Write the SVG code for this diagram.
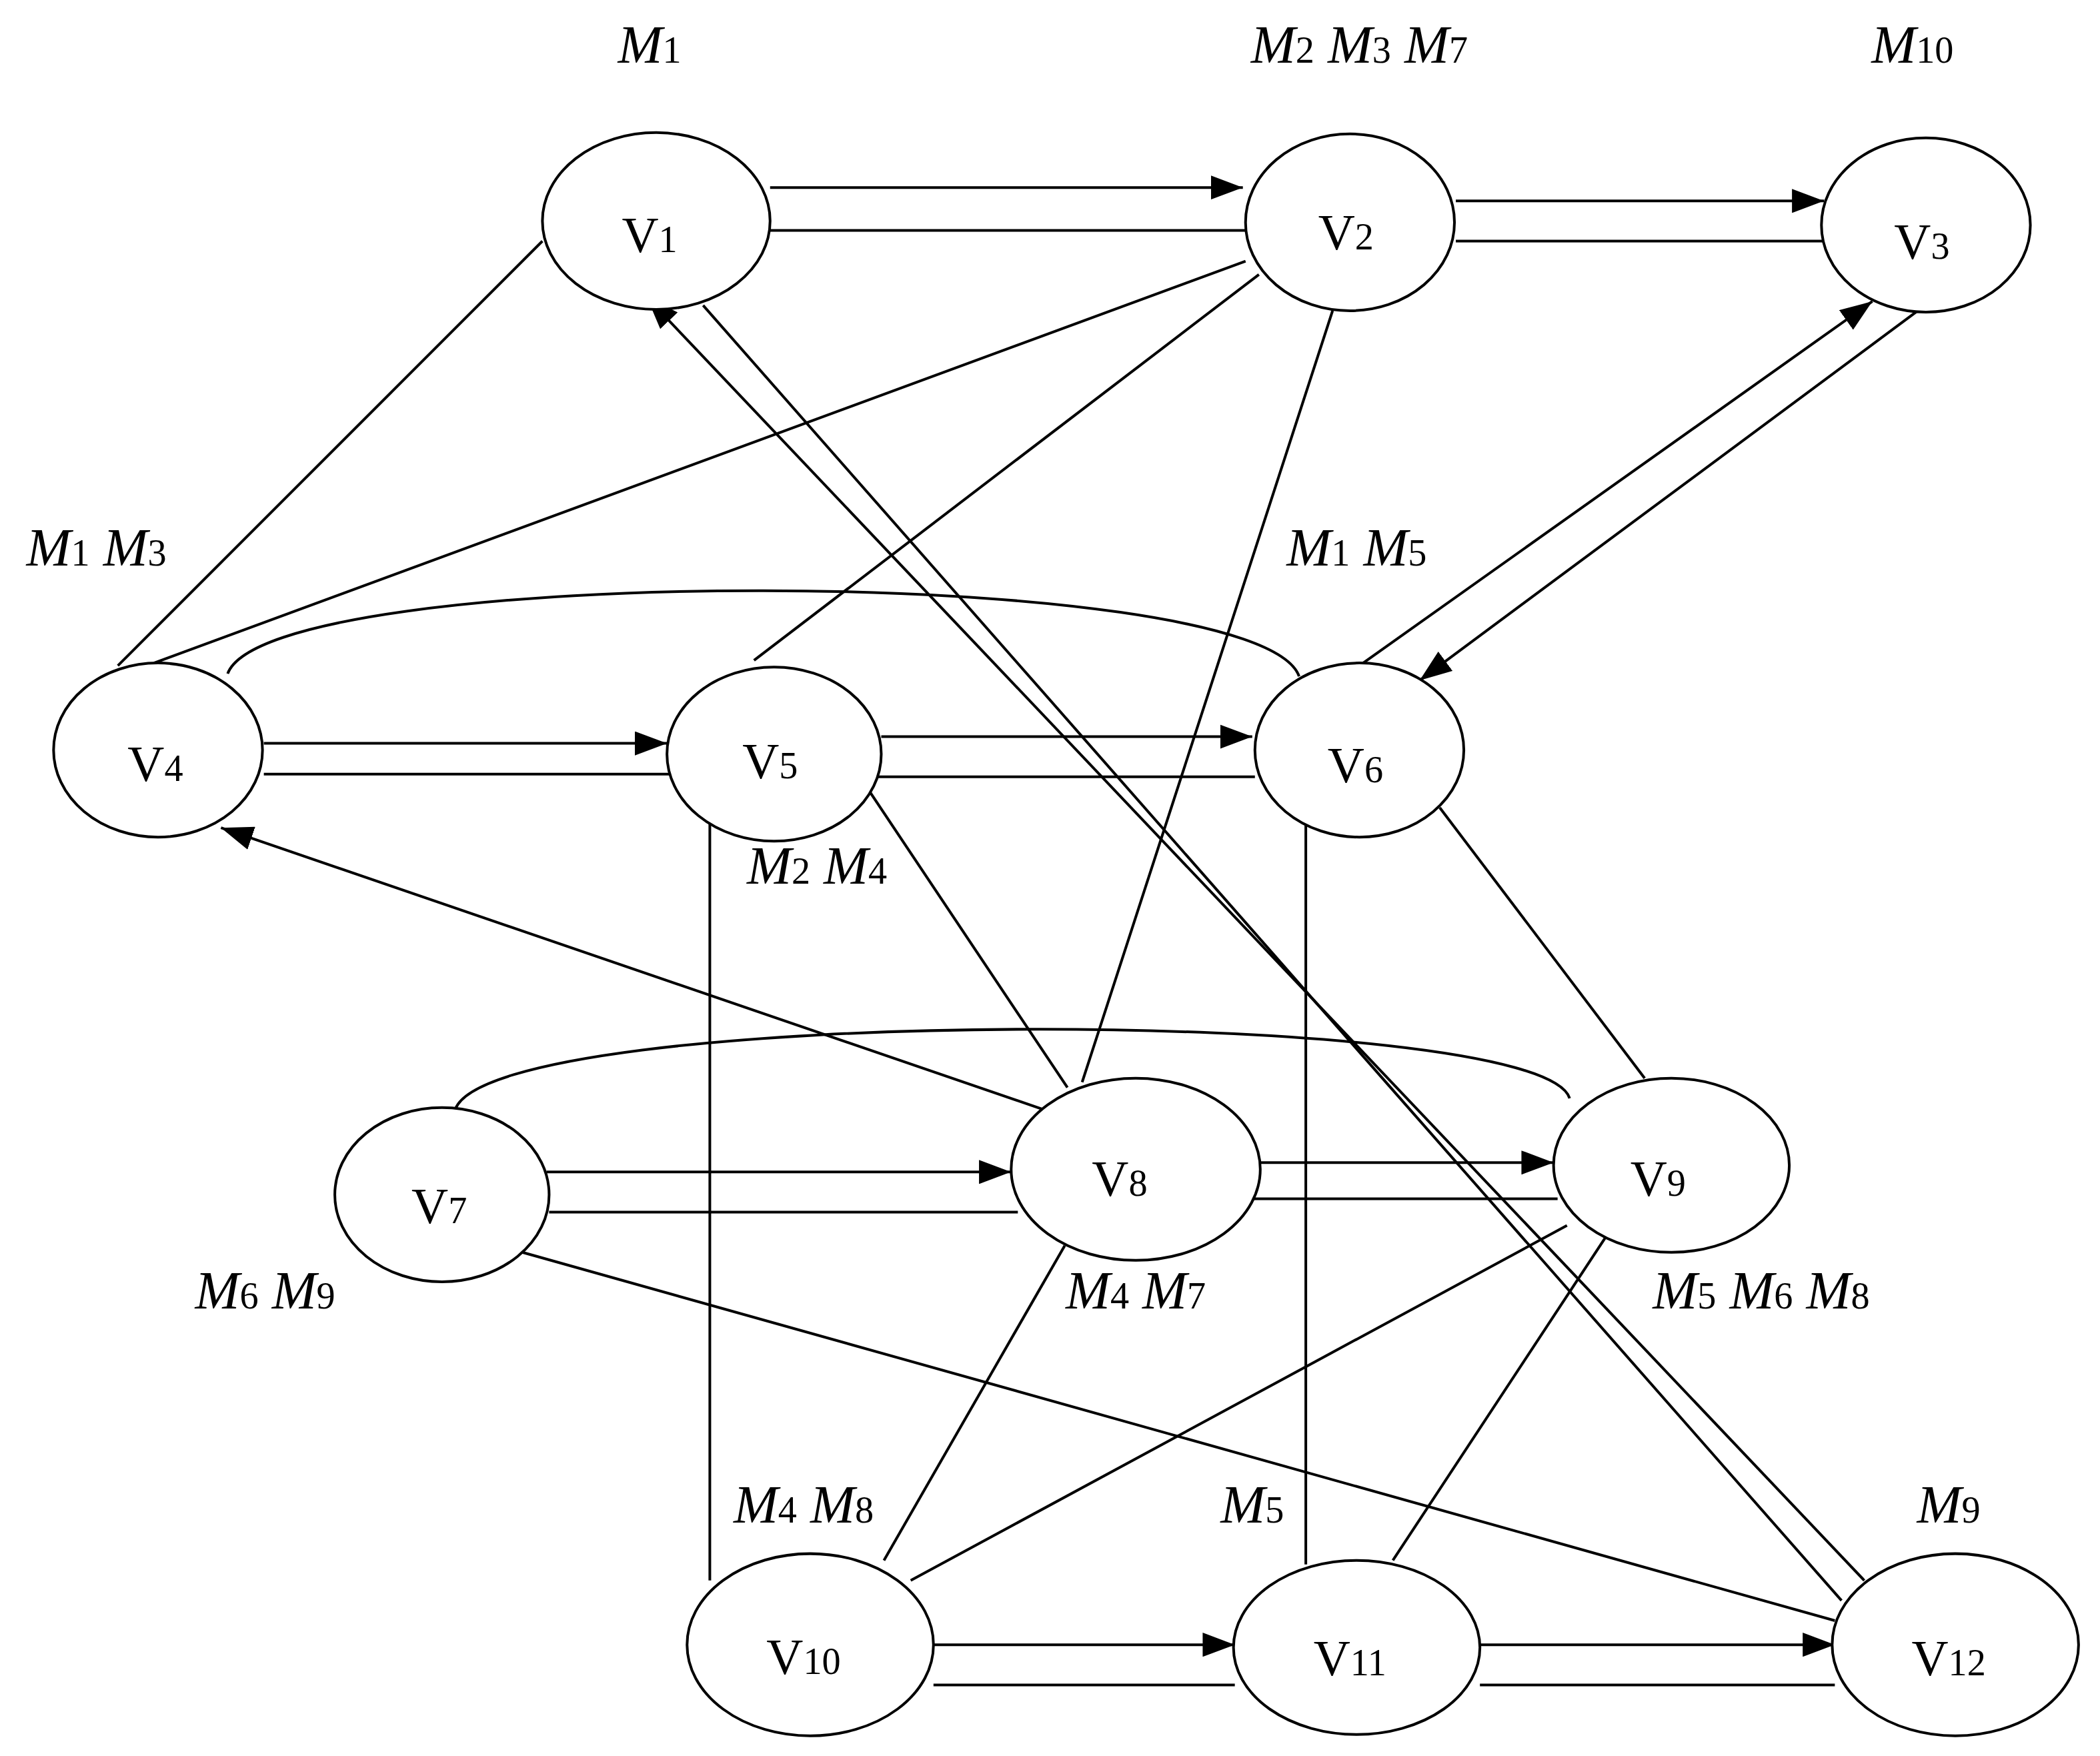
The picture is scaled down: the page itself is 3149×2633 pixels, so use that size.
<svg xmlns="http://www.w3.org/2000/svg" width="3149" height="2633" viewBox="0 0 3149 2633">
<defs>
<style>
.n{fill:#fff;stroke:#000;stroke-width:2}
.e{fill:none;stroke:#000;stroke-width:2}
.a{fill:none;stroke:#000;stroke-width:2;marker-end:url(#ar)}
.v{font-family:"Liberation Serif",serif;font-size:38px;text-anchor:middle}
.m{font-family:"Liberation Serif",serif;font-size:40px;font-style:italic;text-anchor:middle}
.s{font-size:28px;font-style:normal}
</style>
<marker id="ar" viewBox="0 0 10 10" refX="10" refY="5" markerWidth="24" markerHeight="18" markerUnits="userSpaceOnUse" orient="auto" preserveAspectRatio="none"><path d="M0,0L10,5L0,10z" fill="#000"/></marker>
</defs>
<rect width="3149" height="2633" fill="#fff"/>
<g transform="scale(2.0083)">
<g id="connectors">
<path class="a" d="M575,140H928"/><path class="e" d="M575,172H930"/>
<path class="a" d="M1087,150H1362"/><path class="e" d="M1087,180H1362"/>
<path class="e" d="M405,180L88,497"/>
<path class="e" d="M930,195L115,495"/>
<path class="e" d="M940,205L563,493"/>
<path class="e" d="M995,232L808,808"/>
<path class="a" d="M1392,1180L483,222"/><path class="e" d="M525,228L1375,1195"/>
<path class="a" d="M1015,497L1398,225"/><path class="a" d="M1432,232L1060,508"/>
<path class="e" d="M170,503C200,420 940,420 970,505"/>
<path class="a" d="M197,555H498"/><path class="e" d="M197,578H500"/>
<path class="a" d="M658,550H935"/><path class="e" d="M655,580H937"/>
<path class="e" d="M530,608V1180"/>
<path class="e" d="M975,612V1168"/>
<path class="e" d="M650,592L797,812"/>
<path class="e" d="M1075,603L1228,805"/>
<path class="a" d="M778,828L165,618"/>
<path class="e" d="M340,828C370,750 1150,750 1172,820"/>
<path class="a" d="M408,875H755"/><path class="e" d="M410,905H760"/>
<path class="a" d="M940,868H1160"/><path class="e" d="M935,895H1163"/>
<path class="e" d="M390,935L1370,1210"/>
<path class="e" d="M795,930L660,1165"/>
<path class="e" d="M1170,915L680,1180"/>
<path class="e" d="M1200,922L1040,1165"/>
<path class="a" d="M697,1228H922"/><path class="e" d="M697,1258H922"/>
<path class="a" d="M1105,1228H1370"/><path class="e" d="M1105,1258H1370"/>
</g>
<g id="V1"><ellipse class="n" cx="490" cy="165" rx="85" ry="66"/><text class="v" x="485" y="188">V<tspan class="s">1</tspan></text></g>
<g id="V2"><ellipse class="n" cx="1008" cy="166" rx="78" ry="66"/><text class="v" x="1005" y="186">V<tspan class="s">2</tspan></text></g>
<g id="V3"><ellipse class="n" cx="1438" cy="168" rx="78" ry="65"/><text class="v" x="1435" y="193">V<tspan class="s">3</tspan></text></g>
<g id="V4"><ellipse class="n" cx="118" cy="560" rx="78" ry="65"/><text class="v" x="116" y="583">V<tspan class="s">4</tspan></text></g>
<g id="V5"><ellipse class="n" cx="578" cy="563" rx="80" ry="65"/><text class="v" x="575" y="581">V<tspan class="s">5</tspan></text></g>
<g id="V6"><ellipse class="n" cx="1015" cy="560" rx="78" ry="65"/><text class="v" x="1012" y="584">V<tspan class="s">6</tspan></text></g>
<g id="V7"><ellipse class="n" cx="330" cy="892" rx="80" ry="65"/><text class="v" x="328" y="913">V<tspan class="s">7</tspan></text></g>
<g id="V8"><ellipse class="n" cx="848" cy="873" rx="93" ry="68"/><text class="v" x="836" y="893">V<tspan class="s">8</tspan></text></g>
<g id="V9"><ellipse class="n" cx="1248" cy="870" rx="88" ry="65"/><text class="v" x="1238" y="893">V<tspan class="s">9</tspan></text></g>
<g id="V10"><ellipse class="n" cx="605" cy="1228" rx="92" ry="68"/><text class="v" x="600" y="1250">V<tspan class="s">10</tspan></text></g>
<g id="V11"><ellipse class="n" cx="1013" cy="1230" rx="92" ry="65"/><text class="v" x="1008" y="1251">V<tspan class="s">11</tspan></text></g>
<g id="V12"><ellipse class="n" cx="1460" cy="1228" rx="92" ry="68"/><text class="v" x="1455" y="1251">V<tspan class="s">12</tspan></text></g>
<g id="labels">
<text class="m" x="485" y="47">M<tspan class="s">1</tspan></text>
<text class="m" x="1015" y="47">M<tspan class="s">2</tspan> M<tspan class="s">3</tspan> M<tspan class="s">7</tspan></text>
<text class="m" x="1428" y="47">M<tspan class="s">10</tspan></text>
<text class="m" x="72" y="422">M<tspan class="s">1</tspan> M<tspan class="s">3</tspan></text>
<text class="m" x="1013" y="422">M<tspan class="s">1</tspan> M<tspan class="s">5</tspan></text>
<text class="m" x="610" y="660">M<tspan class="s">2</tspan> M<tspan class="s">4</tspan></text>
<text class="m" x="198" y="977">M<tspan class="s">6</tspan> M<tspan class="s">9</tspan></text>
<text class="m" x="848" y="977">M<tspan class="s">4</tspan> M<tspan class="s">7</tspan></text>
<text class="m" x="1315" y="977">M<tspan class="s">5</tspan> M<tspan class="s">6</tspan> M<tspan class="s">8</tspan></text>
<text class="m" x="600" y="1137">M<tspan class="s">4</tspan> M<tspan class="s">8</tspan></text>
<text class="m" x="935" y="1137">M<tspan class="s">5</tspan></text>
<text class="m" x="1455" y="1137">M<tspan class="s">9</tspan></text>
</g>
</g>
</svg>
